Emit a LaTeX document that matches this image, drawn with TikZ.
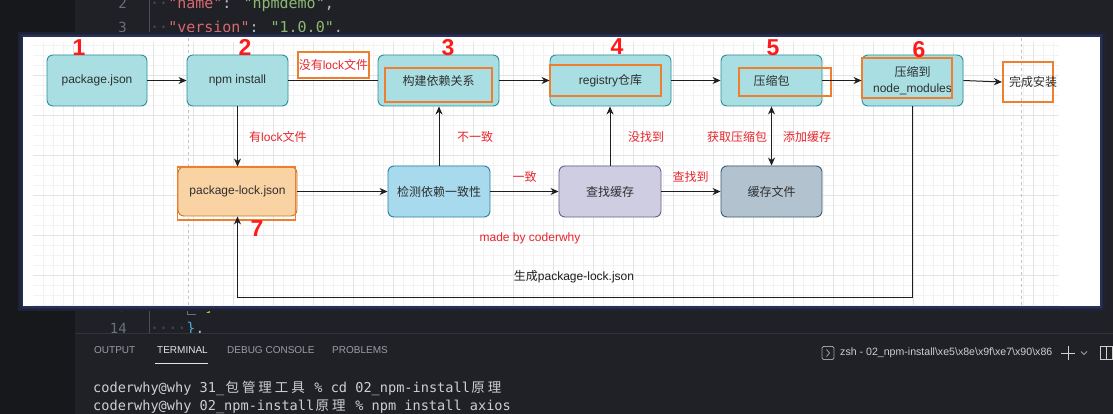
\documentclass[tikz,border=0pt]{standalone}
\usepackage{fontspec}
\setmainfont{Liberation Sans}
\newfontfamily\cjk{Noto Sans CJK SC}
\newfontfamily\monof{DejaVu Sans Mono}
\usetikzlibrary{arrows.meta}
\newcommand\zh[1]{{\cjk #1}}
\newcommand\tz[1]{\makebox[16.4pt]{\cjk\fontsize{13.5}{14}\selectfont #1}}
\definecolor{edbg}{HTML}{1F2127}
\definecolor{sidebg}{HTML}{17181C}
\definecolor{lnum}{HTML}{6B6F78}
\definecolor{keyc}{HTML}{D7686F}
\definecolor{valc}{HTML}{8DB870}
\definecolor{punc}{HTML}{B8BCC4}
\definecolor{dotc}{HTML}{4A4D55}
\definecolor{brk}{HTML}{D6B630}
\definecolor{brk2}{HTML}{4FA6D8}
\definecolor{glowa}{HTML}{1E2232}
\definecolor{glowb}{HTML}{212843}
\definecolor{glowc}{HTML}{283258}
\definecolor{gridmin}{HTML}{F2F2F2}
\definecolor{gridmaj}{HTML}{E4E4E4}
\definecolor{pagec}{HTML}{C4C4C4}
\definecolor{tealf}{HTML}{A9DFE2}
\definecolor{teald}{HTML}{2A9098}
\definecolor{bluef}{HTML}{A8DAEE}
\definecolor{blued}{HTML}{2A7EA6}
\definecolor{purf}{HTML}{CFCDE2}
\definecolor{purd}{HTML}{66618C}
\definecolor{grayf}{HTML}{B2C3CF}
\definecolor{grayd}{HTML}{3C5A70}
\definecolor{orf}{HTML}{FAD3A4}
\definecolor{ord}{HTML}{C07A2C}
\definecolor{hlor}{HTML}{EE7F2E}
\definecolor{redl}{HTML}{E8262D}
\definecolor{redn}{HTML}{FF1A1A}
\definecolor{txt}{HTML}{2E2E2E}
\definecolor{linec}{HTML}{1E1E1E}
\definecolor{tabc}{HTML}{9A9DA3}
\definecolor{tabon}{HTML}{E4E4E4}
\definecolor{termc}{HTML}{CFCFCF}
\definecolor{termline}{HTML}{30333A}
\tikzset{
  box/.style={rounded corners=6pt, line width=0.9pt, minimum width=101pt, minimum height=51pt,
    align=center, inner sep=0pt, text=txt, font=\fontsize{12}{16}\selectfont},
  tealbox/.style={box, fill=tealf, draw=teald},
  hlbox/.style={draw=hlor, line width=2pt, inner sep=0pt},
  lbl/.style={text=redl, font=\fontsize{12}{14}\selectfont, inner sep=0pt},
  num/.style={text=redn, font=\fontsize{23}{23}\bfseries\selectfont, inner sep=0pt},
  arr/.style={draw=linec, line width=1pt, -{Stealth[length=8pt,width=7pt,inset=2.5pt]}},
  darr/.style={draw=linec, line width=1pt, {Stealth[length=8pt,width=7pt,inset=2.5pt]}-{Stealth[length=8pt,width=7pt,inset=2.5pt]}},
  plainline/.style={draw=linec, line width=1pt},
  code/.style={inner sep=0pt, font=\monof\fontsize{15}{15}\selectfont},
  lno/.style={inner sep=0pt, text=lnum, font=\monof\fontsize{14}{14}\selectfont},
  tab/.style={inner sep=0pt, text=tabc, font=\fontsize{10}{10}\selectfont},
  term/.style={inner sep=0pt, text=termc, font=\monof\fontsize{13.6}{14}\selectfont},
}
\begin{document}
\begin{tikzpicture}[x=1pt,y=-1pt]
\useasboundingbox (0,0) rectangle (1113,414);
% ---------- editor background ----------
\fill[edbg] (0,0) rectangle (1113,414);
\fill[sidebg] (0,0) rectangle (75,414);
\draw[dotc, line width=0.6pt] (149,0) -- (149,333);
\node[lno, anchor=base east] (l2) at (127,9) {2};
\node[lno, anchor=base east] (l3) at (127,33) {3};
\node[code, anchor=base west] (c2) at (150,9) {\textcolor{dotc}{··}\textcolor{keyc}{"name"}\textcolor{punc}{: }\textcolor{valc}{"npmdemo"}\textcolor{punc}{,}};
\node[code, anchor=base west] (c3) at (150,33) {\textcolor{dotc}{··}\textcolor{keyc}{"version"}\textcolor{punc}{: }\textcolor{valc}{"1.0.0"}\textcolor{punc}{,}};
\node[lno, anchor=base east] (l13) at (127,311) {13};
\node[code, anchor=base west] (c13) at (150,311) {\textcolor{dotc}{······}\textcolor{brk}{]}};
\node[lno, anchor=base east] (l14) at (127,333) {14};
\node[code, anchor=base west] (c14) at (150,333) {\textcolor{dotc}{····}\textcolor{brk2}{\}}\textcolor{punc}{,}};
\draw[lnum, line width=0.6pt] (187,300) -- (187,314) -- (196,314);
% ---------- diagram panel ----------
\fill[glowa] (18,32) rectangle (1105,311);
\fill[glowb] (20,34) rectangle (1103,309);
\fill[glowc] (21.5,35.5) rectangle (1101.5,307.5);
\fill[white] (23,37) rectangle (1100,306);
% grid
\foreach \x in {43,53,...,1053} \draw[gridmin, line width=0.6pt] (\x,42) -- (\x,305);
\foreach \y in {45,55,...,305} \draw[gridmin, line width=0.6pt] (33,\y) -- (1059,\y);
\foreach \x in {73,113,...,1033} \draw[gridmaj, line width=0.6pt] (\x,42) -- (\x,305);
\foreach \y in {75,115,...,275} \draw[gridmaj, line width=0.6pt] (33,\y) -- (1059,\y);
\draw[pagec, line width=0.8pt, dash pattern=on 3pt off 3pt] (188,38) -- (188,305);
\draw[pagec, line width=0.8pt, dash pattern=on 3pt off 3pt] (1021,38) -- (1021,305);
% top row
\node[tealbox, minimum width=100pt] (n1) at (97,80.5) {package.json};
\node[tealbox] (n2) at (237.5,80.5) {npm install};
\node[tealbox, minimum width=121pt] (n3) at (438.5,80.5) {\zh{构建依赖关系}};
\node[tealbox, minimum width=121pt] (n4) at (610.5,80.5) {registry\zh{仓库}};
\node[tealbox] (n5) at (771.5,80.5) {\zh{压缩包}};
\node[tealbox] (n6) at (912.5,80.5) {\zh{压缩到}\\node\_modules};
\node[hlbox, minimum width=107pt, minimum height=34pt] (h3) at (438.5,85) {};
\node[hlbox, minimum width=111pt, minimum height=31pt] (h4) at (605.5,80.5) {};
\node[hlbox, minimum width=92pt, minimum height=28pt] (h5) at (785,82) {};
\node[hlbox, minimum width=90pt, minimum height=40pt] (h6) at (907,78) {};
\node[hlbox, minimum width=50pt, minimum height=40pt] (h8) at (1028,82) {};
\node[inner sep=0pt, text=txt, font=\fontsize{12}{14}\selectfont] (done) at (1033,82) {\zh{完成安装}};
\node[hlbox, fill=white, minimum width=71pt, minimum height=26pt] (nolock) at (333.5,65) {};
\node[lbl] (nolockt) at (333.5,65) {\zh{没有}lock\zh{文件}};
% bottom row
\node[box, fill=orf, draw=ord, minimum width=119pt, minimum height=49pt] (n7) at (237.5,191.5) {package-lock.json};
\node[hlbox, line width=1.8pt, minimum width=118pt, minimum height=53pt] (h7) at (236.5,193.5) {};
\node[box, fill=bluef, draw=blued, minimum width=102pt] (n9) at (439,191.5) {\zh{检测依赖一致性}};
\node[box, fill=purf, draw=purd, minimum width=102pt] (n10) at (610,191.5) {\zh{查找缓存}};
\node[box, fill=grayf, draw=grayd] (n11) at (771.5,191.5) {\zh{缓存文件}};
% connectors
\draw[arr] (n1) -- (n2);
\draw[plainline] (n2.east) -- (n3.west);
\draw[arr] (n3) -- (n4);
\draw[arr] (n4) -- (n5);
\draw[arr] (n5.east |- n6) -- (n6);
\draw[arr] (n6.east) -- (h8.west);
\draw[arr] (n2.south) -- (n2.south |- n7.north);
\draw[arr] (n7.east) -- (n9.west);
\draw[arr] (n9.north) -- (n9.north |- n3.south);
\draw[arr] (n9) -- (n10);
\draw[arr] (n10.north) -- (n10.north |- n4.south);
\draw[arr] (n10) -- (n11);
\draw[darr] (n5.south) -- (n5.south |- n11.north);
\coordinate (loopr) at (912.5,297);
\coordinate (loopl) at (237.5,297);
\draw[arr] (n6.south) -- (loopr) -- (loopl) -- (n7.south);
% labels
\node[lbl, anchor=west] (lk) at (249,137) {\zh{有}lock\zh{文件}};
\node[lbl, anchor=west] (bu) at (457,137) {\zh{不一致}};
\node[lbl, anchor=west] (mz) at (628,137) {\zh{没找到}};
\node[lbl, anchor=west] (hq) at (707,137) {\zh{获取压缩包}};
\node[lbl, anchor=west] (tj) at (783,137) {\zh{添加缓存}};
\node[lbl] (yz) at (524.5,177) {\zh{一致}};
\node[lbl] (czd) at (690.5,177) {\zh{查找到}};
\node[lbl] (made) at (530,238) {made by coderwhy};
\node[inner sep=0pt, text=linec, font=\fontsize{12}{14}\selectfont] (gen) at (574,277) {\zh{生成}package-lock.json};
% numbers
\node[num] (k1) at (79,48) {1};
\node[num] (k2) at (245,47) {2};
\node[num] (k3) at (448,48) {3};
\node[num] (k4) at (617,47) {4};
\node[num] (k5) at (773,48) {5};
\node[num] (k6) at (919,50) {6};
\node[num] (k7) at (257,229) {7};
% ---------- terminal panel ----------
\fill[edbg] (75,334) rectangle (1113,414);
\draw[termline, line width=1pt] (75,333.5) -- (1113,333.5);
\node[tab, anchor=west] (tout) at (94,350) {OUTPUT};
\node[tab, anchor=west, text=tabon] (tterm) at (157,350) {TERMINAL};
\node[tab, anchor=west] (tdbg) at (227,350) {DEBUG CONSOLE};
\node[tab, anchor=west] (tprob) at (332,350) {PROBLEMS};
\draw[tabon, line width=1.2pt] (155,363.5) -- (208,363.5);
\node[term, anchor=base west] (t1) at (93,392.5) {coderwhy@why 31\_\tz{包}\tz{管}\tz{理}\tz{工}\tz{具} \% cd 02\_npm-install\tz{原}\tz{理}};
\node[term, anchor=base west] (t2) at (93,410) {coderwhy@why 02\_npm-install\tz{原}\tz{理} \% npm install axios};
\draw[tabc, line width=0.8pt, rounded corners=1.5pt] (822,346.5) rectangle (834,359.5);
\draw[tabc, line width=0.8pt] (826.5,349.5) -- (829.5,353) -- (826.5,356.5);
\node[inner sep=0pt, anchor=west, text=termc, font=\fontsize{10.6}{11}\selectfont] (zsh) at (840,353) {zsh - 02\_npm-install\textbackslash xe5\textbackslash x8e\textbackslash x9f\textbackslash xe7\textbackslash x90\textbackslash x86};
\draw[termc, line width=0.9pt] (1061,353) -- (1075,353) (1068,346) -- (1068,360);
\draw[tabc, line width=0.8pt] (1081,351.5) -- (1084,354.5) -- (1087,351.5);
\draw[termc, line width=0.9pt] (1100,346.5) rectangle (1112.5,359.5) (1106.2,346.5) -- (1106.2,359.5);
\end{tikzpicture}
\end{document}
